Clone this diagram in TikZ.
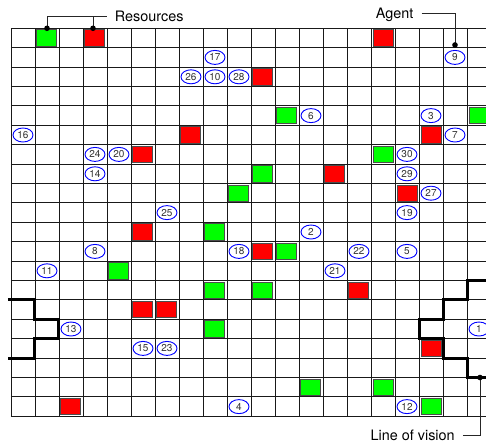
\documentclass[tikz,border=0pt]{standalone}
\usepackage{fontspec}
\setmainfont{TeX Gyre Heros}
\usepackage{tikz}
\usetikzlibrary{shapes.geometric, positioning, calc}

\begin{document}
\begin{tikzpicture}[x=24pt, y=-19.4pt,
        gridline/.style={line width=0.9pt, black!90},
        vision/.style={line width=3pt, black},
        lead/.style={line width=0.8pt, black!85},
        res/.style={rectangle, draw=black!70, line width=1pt, minimum width=20pt, minimum height=16.4pt, inner sep=0pt},
        greenres/.style={res, fill=green},
        redres/.style={res, fill=red},
        agent/.style={ellipse, draw=blue, line width=0.9pt, minimum width=20pt, minimum height=14pt, inner sep=0pt, text=black!80, font=\fontsize{10}{10}\selectfont},
        callout/.style={font=\fontsize{14.4}{16}\selectfont, text depth=0pt, inner xsep=8pt, inner ysep=0pt}]

        \useasboundingbox (-0.458,-1.459) rectangle (19.792,21.428);

        % Griglia 20x20
        \foreach \i in {0,...,20} {
            \draw[gridline] (\i,0) -- (\i,20);
            \draw[gridline] (0,\i) -- (20,\i);
        }

        % Risorse verdi
        \foreach \c/\r in {1/0, 11/4, 19/4, 15/6, 10/7, 9/8, 8/10, 11/11, 4/12, 8/13, 10/13, 8/15, 12/18, 15/18, 17/19}
            \node[greenres] (g\c-\r) at (\c+0.5,\r+0.5) {};

        % Risorse rosse
        \foreach \c/\r in {3/0, 15/0, 10/2, 7/5, 17/5, 5/6, 13/7, 16/8, 5/10, 10/11, 14/13, 5/14, 6/14, 17/16, 2/19}
            \node[redres] (r\c-\r) at (\c+0.5,\r+0.5) {};

        % Agenti
        \foreach \n/\c/\r in {17/8/1, 9/18/1, 26/7/2, 10/8/2, 28/9/2, 6/12/4, 3/17/4, 16/0/5, 7/18/5, 24/3/6,
                20/4/6, 30/16/6, 14/3/7, 29/16/7, 27/17/8, 25/6/9, 19/16/9, 2/12/10, 8/3/11, 18/9/11,
                22/14/11, 5/16/11, 11/1/12, 21/13/12, 13/2/15, 1/19/15, 15/5/16, 23/6/16, 4/9/19, 12/16/19}
            \node[agent] (a\n) at (\c+0.5,\r+0.5) {\n};

        % Campo visivo (bordo toroidale)
        \draw[vision] (20.2,13) -- (19,13) -- (19,14) -- (18,14) -- (18,15) -- (17,15) -- (17,16)
            -- (18,16) -- (18,17) -- (19,17) -- (19,18) -- (20.2,18);
        \draw[vision] (-0.125,14) -- (1,14) -- (1,15) -- (2,15) -- (2,16) -- (1,16) -- (1,17) -- (-0.125,17);

        % Etichette
        \node[callout, anchor=west] (reslbl) at (3.99,-0.634) {Resources};
        \node[callout, anchor=east] (agentlbl) at (17.11,-0.773) {Agent};
        \node[callout, anchor=east] (lovlbl) at (18.83,21.0) {Line of vision};

        \coordinate (gdot) at ([yshift=1pt]g1-0.north);
        \coordinate (rdot) at ([xshift=-2pt, yshift=1pt]r3-0.north);
        \coordinate (adot) at ([yshift=5pt]a9.north);
        \coordinate (ldot) at (19.54,18);

        \draw[lead] (reslbl.west) -| (gdot);
        \draw[lead] (rdot) -- (rdot |- reslbl.west);
        \draw[lead] (agentlbl.east) -| (adot);
        \draw[lead] (lovlbl.east) -| (ldot);

        \foreach \d in {gdot, rdot, adot, ldot}
            \fill (\d) circle (2.8pt);
    \end{tikzpicture}
\end{document}
